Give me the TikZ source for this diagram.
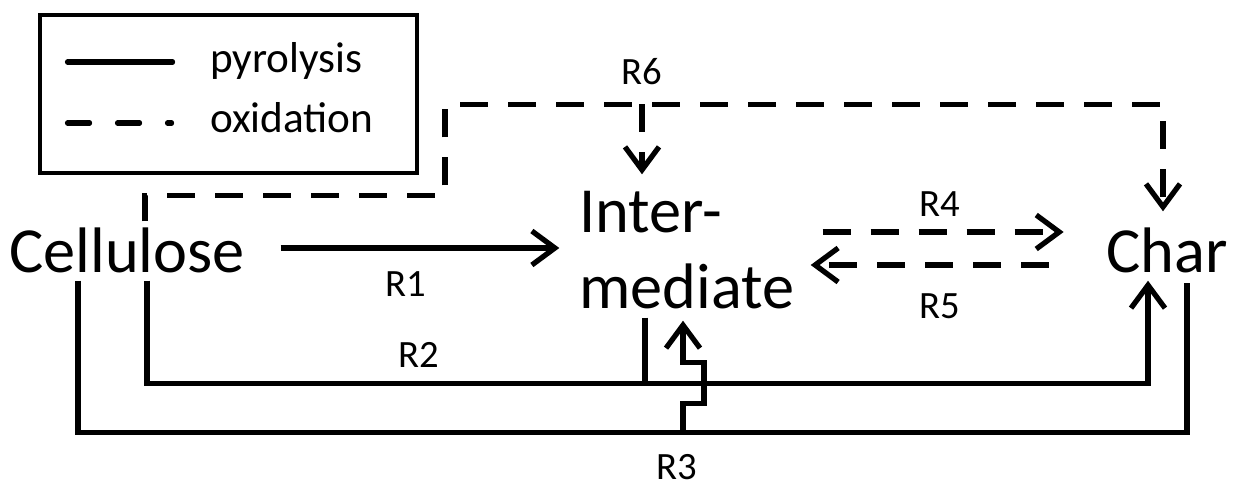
\documentclass[tikz,border=0pt]{standalone}
\usepackage{fontspec}
\setmainfont{Carlito}
\usetikzlibrary{arrows.meta,calc}

\begin{document}
\begin{tikzpicture}[
    x=0.1mm, y=-0.1mm,
    species/.style={inner sep=0pt, font=\fontsize{18.3}{21.5}\selectfont},
    lbl/.style={inner sep=0pt, font=\fontsize{11}{13}\selectfont},
    legendtext/.style={inner sep=0pt, anchor=base west, font=\fontsize{12.3}{14}\selectfont},
    pyro/.style={draw=black, line width=1.5pt},
    oxid/.style={pyro, dash pattern=on 2.8mm off 2mm},
    arrow/.style={-{Straight Barb[length=2.3mm, width=3.4mm]}}
  ]
    \useasboundingbox (0,0) rectangle (1235,487);
    \node[species, minimum width=24mm, minimum height=6mm] (cell) at (127,250) {Cellulose};
    \node[species, align=left, minimum width=23mm, minimum height=15mm] (inter) at (687,250) {Inter-\\mediate};
    \node[species, minimum width=12mm, minimum height=6.4mm] (char) at (1167,250) {Char};
    \node[draw, line width=1.4pt, minimum width=37.7mm, minimum height=15.8mm] (legend) at (228.5,94) {};
    \draw[pyro, line cap=round] ($(legend.west)+(30,-32)$) -- ++(105,0);
    \draw[pyro, line cap=round, dash pattern=on 2.2mm off 2.8mm] ($(legend.west)+(30,29)$) -- ++(104,0);
    \node[legendtext] (pyrotext) at ($(legend.west)+(172,-22)$) {pyrolysis};
    \node[legendtext] (oxidtext) at ($(legend.west)+(172,38)$) {oxidation};
    \draw[pyro, arrow] ($(cell.east)+(33,-2)$) -- node[lbl, below=6pt, pos=0.45] (r1) {R1} ($(inter.west)+(-12,-2)$);
    \draw[pyro, arrow] ($(cell.south)+(20,0)$) -- ++(0,103) coordinate (r2corner)
      -| node[lbl, above=4pt, pos=0.136] (r2) {R2} ($(char.south)+(-19,-2)$);
    \coordinate (brtop) at ($(inter.south)+(-42,-8)$);
    \draw[pyro] (brtop) -- (brtop |- r2corner);
    \draw[pyro] ($(cell.south)+(-49,0)$) -- ++(0,152) coordinate (r3corner)
      -| node[lbl, below=5.5pt, pos=0.27] (r3) {R3} ($(char.south)+(20,0)$);
    \coordinate (jogtop) at ($(inter.south)+(-4,-5)$);
    \draw[pyro, arrow] (jogtop |- r3corner) -- ++(0,-29) -- ++(21,0) -- ++(0,-41) -- ++(-21,0) -- (jogtop);
    \draw[oxid, arrow] ($(inter.east)+(20,-18)$) -- node[lbl, above=3.8pt, pos=0.486] (r4) {R4} ($(char.west)+(-42,-18)$);
    \draw[oxid, arrow] ($(char.west)+(-57,15)$) -- node[lbl, below=7.5pt, pos=0.458] (r5) {R5} ($(inter.east)+(8,15)$);
    \draw[oxid, arrow] ($(cell.north)+(18,2)$) -- ++(0,-26) -- ++(300,0) -- ++(0,-91) coordinate (r6corner)
      -| ($(char.north)+(-4,-6)$);
    \coordinate (r6tip) at ($(inter.north)+(-45,0)$);
    \draw[oxid, arrow] (r6tip |- r6corner) node[lbl, above=4.7pt] (r6) {R6} -- (r6tip);
  \end{tikzpicture}
\end{document}
